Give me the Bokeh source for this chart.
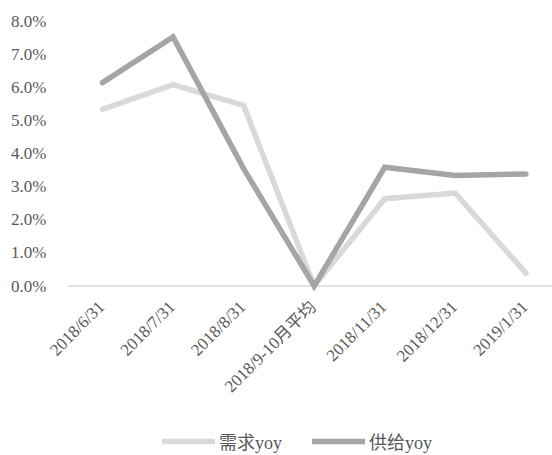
import math
from bokeh.plotting import figure
from bokeh.models import (Range1d, FixedTicker, NumeralTickFormatter, Legend, LegendItem)
from bokeh.core.properties import value
from bokeh.embed import file_html
from bokeh.resources import INLINE

categories = ["2018/6/31", "2018/7/31", "2018/8/31", "2018/9-10月平均",
              "2018/11/31", "2018/12/31", "2019/1/31"]
demand_yoy = [0.0534, 0.0609, 0.0546, 0.0000, 0.0264, 0.0281, 0.0039]
supply_yoy = [0.0615, 0.0753, 0.0355, 0.0000, 0.0359, 0.0334, 0.0339]
y_ticks = [0.0, 0.01, 0.02, 0.03, 0.04, 0.05, 0.06, 0.07, 0.08]

FONT = "'Liberation Serif', 'Times New Roman', 'Noto Sans CJK SC', serif"
TXT = "#595959"
C_DEMAND = "#d9d9d9"
C_SUPPLY = "#a5a5a5"

xs = list(range(len(categories)))

# layout: plot frame spans x 46..552 px, y 21..455 px; 0..8% occupies the top part
FRAME_LEFT, FRAME_TOP = 46, 21
X_START, X_END = -0.7938, 6.378
Y_TOP = 0.08
Y_BOTTOM = -Y_TOP * (434 - 264.5) / 264.5

p = figure(width=552, height=455, output_backend="svg", toolbar_location=None,
           x_range=Range1d(X_START, X_END), y_range=Range1d(Y_BOTTOM, Y_TOP),
           min_border_left=FRAME_LEFT, min_border_right=0, min_border_top=FRAME_TOP,
           min_border_bottom=0)
p.outline_line_color = None
p.grid.visible = False
p.background_fill_color = "white"
p.border_fill_color = "white"

# category axis baseline at 0, spanning the category bands
p.segment(x0=[-0.5], y0=[0], x1=[len(categories) - 0.5], y1=[0],
          line_color=C_DEMAND, line_width=1.5)

r1 = p.line(xs, demand_yoy, line_color=C_DEMAND, line_width=5.5, line_cap="round", line_join="miter")
r2 = p.line(xs, supply_yoy, line_color=C_SUPPLY, line_width=5.5, line_cap="round", line_join="miter")

# category tick labels, rotated 45 degrees below the baseline
p.text(x=xs, y=[0] * len(categories), text=categories, angle=math.pi / 4,
       text_align="right", text_baseline="middle", y_offset=18, x_offset=-1,
       text_font=value(FONT), text_font_size="17px", text_color=TXT)

p.xaxis.visible = False

ya = p.yaxis[0]
ya.ticker = FixedTicker(ticks=y_ticks)
ya.formatter = NumeralTickFormatter(format="0.0%")
ya.axis_line_color = None
ya.major_tick_line_color = None
ya.minor_tick_line_color = None
ya.major_tick_out = 0
ya.major_tick_in = 0
ya.minor_tick_out = 0
ya.minor_tick_in = 0
ya.major_label_text_font = FONT
ya.major_label_text_font_size = "17px"
ya.major_label_text_color = TXT
ya.major_label_standoff = 0

legend = Legend(items=[LegendItem(label="需求yoy", renderers=[r1]),
                       LegendItem(label="供给yoy", renderers=[r2])],
                orientation="horizontal", location=(116, 1),
                label_text_font=FONT, label_text_font_size="18px", label_text_color=TXT,
                glyph_width=53, glyph_height=18, spacing=30, label_standoff=4,
                border_line_color=None, background_fill_alpha=0, padding=0, margin=0)
p.add_layout(legend, "center")

open("out.html", "w").write(file_html(p, INLINE))
